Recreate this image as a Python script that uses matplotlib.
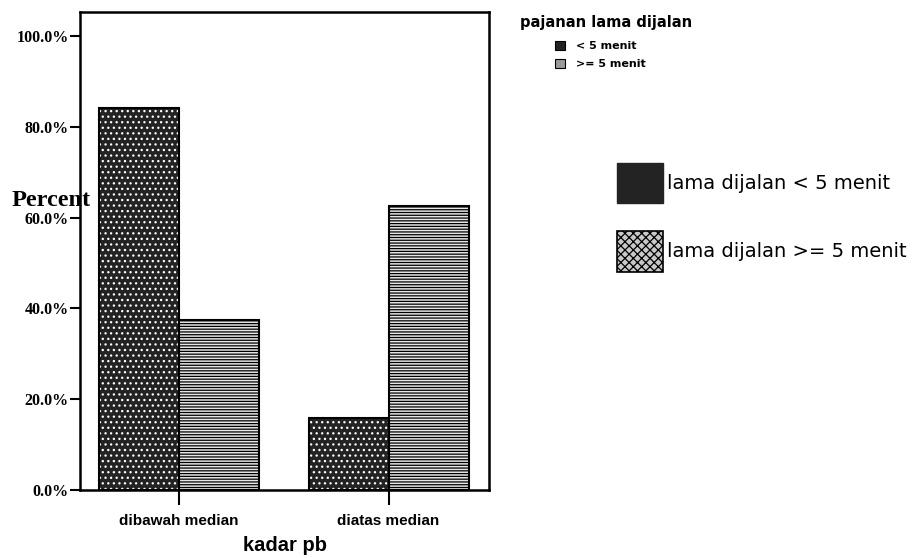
import numpy as np
import matplotlib
matplotlib.use('Agg')
import matplotlib.pyplot as plt
from matplotlib.patches import Patch

# persentase kadar pb menurut pajanan lama dijalan
kategori = ['dibawah median', 'diatas median']
kurang_5 = [84.2, 15.8]
lebih_5 = [37.5, 62.5]
yticks = [0, 20, 40, 60, 80, 100]
ytick_labels = ['0.0%', '20.0%', '40.0%', '60.0%', '80.0%', '100.0%']

plt.rcParams['hatch.linewidth'] = 0.9

fig = plt.figure(figsize=(9.18, 5.58), dpi=100)
ax = fig.add_axes([0.087, 0.122, 0.446, 0.856])

x = np.arange(len(kategori))
w = 0.381
dark = '#232323'
light = '#e6e6e6'

# batang < 5 menit: gelap dengan titik putih
ax.bar(x - w / 2, kurang_5, w, color=dark, edgecolor='white', hatch='...', linewidth=0)
ax.bar(x - w / 2, kurang_5, w, fill=False, edgecolor='black', linewidth=1.5)
# batang >= 5 menit: abu-abu terang dengan garis mendatar
ax.bar(x + w / 2, lebih_5, w, color=light, edgecolor='black', hatch='------', linewidth=0)
ax.bar(x + w / 2, lebih_5, w, fill=False, edgecolor='black', linewidth=1.5)

ax.set_xlim(-0.47, 1.48)
ax.set_ylim(0, 105.2)
for s in ax.spines.values():
    s.set_linewidth(1.8)

ax.set_yticks(yticks)
ax.set_yticklabels(ytick_labels, family='Liberation Serif', fontweight='bold', fontsize=11.5)
ax.set_xticks(x)
ax.set_xticklabels(kategori, family='Liberation Sans', fontweight='bold', fontsize=11)
ax.tick_params(axis='y', length=7, width=1.5, pad=1)
ax.tick_params(axis='x', length=11, width=1.5, pad=6)
ax.set_xlabel('kadar pb', family='Liberation Sans', fontweight='bold', fontsize=14.5, labelpad=6)

fig.text(0.013, 0.641, 'Percent', family='Liberation Serif', fontweight='bold', fontsize=17.5,
         va='center', ha='left', zorder=5)

# legenda kecil (judul pajanan)
fig.text(0.566, 0.959, 'pajanan lama dijalan', family='DejaVu Sans', fontweight='bold',
         fontsize=10.5, va='center', ha='left')
kecil = [Patch(facecolor=dark, edgecolor='black', linewidth=0.8),
         Patch(facecolor='#9a9a9a', edgecolor='black', linewidth=0.8)]
fig.legend(kecil, ['< 5 menit', '>= 5 menit'],
           loc='upper left', bbox_to_anchor=(0.605, 0.927), frameon=False,
           prop={'family': 'DejaVu Sans', 'weight': 'bold', 'size': 8},
           handlelength=0.85, handleheight=0.85, handletextpad=1.0,
           labelspacing=0.7, borderpad=0, borderaxespad=0)

# legenda besar
besar = [Patch(facecolor=dark, edgecolor=dark),
         Patch(facecolor='#c8c8c8', edgecolor='black', hatch='xxxx', linewidth=1.2)]
fig.legend(besar, ['lama dijalan < 5 menit', 'lama dijalan >= 5 menit'],
           loc='upper left', bbox_to_anchor=(0.672, 0.708), frameon=False,
           prop={'family': 'DejaVu Sans', 'size': 14},
           handlelength=2.37, handleheight=2.8, handletextpad=0.2,
           labelspacing=1.46, borderpad=0, borderaxespad=0)

fig.savefig('out.png', dpi=100)
